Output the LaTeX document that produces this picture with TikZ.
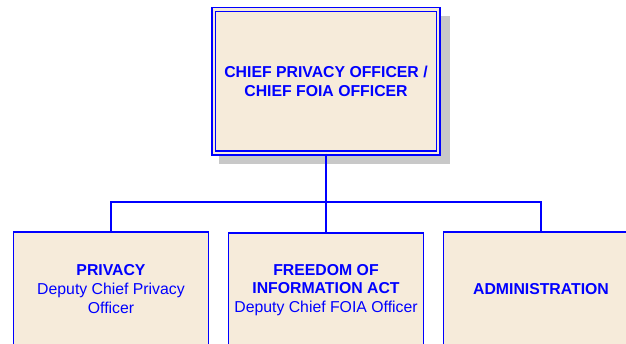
\documentclass[tikz,border=0pt]{standalone}
\usepackage{fontspec}
\setmainfont{Liberation Sans}
\usetikzlibrary{shadows}
\definecolor{orgblue}{RGB}{0,0,255}
\definecolor{orgfill}{RGB}{246,235,218}
\definecolor{orgshadow}{RGB}{200,200,200}
\begin{document}
\begin{tikzpicture}[x=1pt,y=-1pt,
    office/.style={shape=rectangle,draw=orgblue,fill=orgfill,line width=1.3pt,text=orgblue,align=center,font=\fontsize{15.8}{18.8}\selectfont},
    unit/.style={office,minimum width=195pt,minimum height=114pt},
    link/.style={draw=orgblue,line width=1.3pt},
    trunk/.style={draw=orgblue,line width=2.7pt}]
    \useasboundingbox (0,0) rectangle (626,344);
    % offices
    \node[office,line width=1.6pt,double=orgfill,double distance=2.2pt,minimum width=224.7pt,minimum height=143.5pt,
          font=\fontsize{15.8}{18.8}\selectfont\bfseries,
          drop shadow={shadow xshift=8.3pt,shadow yshift=-8.3pt,shadow scale=1.03,fill=orgshadow,opacity=1}]
          (chief) at (326,81.2) {CHIEF PRIVACY OFFICER /\\CHIEF FOIA OFFICER};
    \node[unit] (privacy) at (111,289) {\textbf{PRIVACY}\\Deputy Chief Privacy\\Officer};
    \node[unit] (foia) at (326,290) {\textbf{FREEDOM OF}\\\textbf{INFORMATION ACT}\\Deputy Chief FOIA Officer};
    \node[unit] (admin) at (541,289) {\textbf{ADMINISTRATION}};
    
    % lines
    \coordinate (split) at (326,202);
    \draw[trunk] (chief.south) -- (split);
    \draw[link] (split) -| (privacy.north);
    \draw[link] (split) -| (admin.north);
    \draw[link] (split) -- (foia.north);
\end{tikzpicture}
\end{document}
